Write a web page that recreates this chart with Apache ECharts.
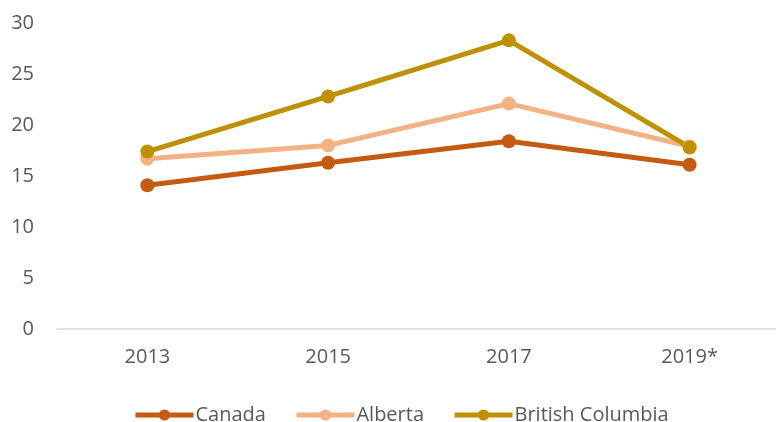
<!DOCTYPE html>
<html><head><meta charset="utf-8">
<script src="https://cdn.jsdelivr.net/npm/echarts@6/dist/echarts.min.js"></script>
<style>html,body{margin:0;padding:0;background:#fff;overflow:hidden}#c{width:786px;height:422px}</style>
</head><body><div id="c"></div>
<script>
const categories = ['2013', '2015', '2017', '2019*'];
const canada = [14.1, 16.3, 18.4, 16.1];
const alberta = [16.7, 18.0, 22.1, 17.9];
const britishColumbia = [17.4, 22.8, 28.3, 17.8];
const yTicks = [0, 5, 10, 15, 20, 25, 30];

const font = 'Open Sans, Liberation Sans, sans-serif';
const chart = echarts.init(document.getElementById('c'));
function s(name, data, color) {
  return {
    name, type: 'line', data,
    symbol: 'circle', symbolSize: 14,
    lineStyle: { width: 5, color },
    itemStyle: { color },
    z: 2
  };
}
chart.setOption({
  animation: false,
  grid: { left: 57, right: 6, top: 23, bottom: 93 },
  legend: {
    top: 400, left: 128, itemGap: 28,
    itemWidth: 58, itemHeight: 14,
    lineStyle: { width: 5 },
    textStyle: { color: '#595959', fontSize: 20, fontFamily: font, padding: [0, 0, 0, -3] },
    data: ['Canada', 'Alberta', 'British Columbia']
  },
  xAxis: {
    type: 'category', data: categories, boundaryGap: true,
    axisLine: { lineStyle: { color: '#d9d9d9', width: 1.5 } },
    axisTick: { show: false },
    axisLabel: { color: '#595959', fontSize: 20, fontFamily: font, margin: 18 }
  },
  yAxis: {
    type: 'value', min: yTicks[0], max: yTicks[yTicks.length - 1], interval: 5,
    axisLine: { show: false }, axisTick: { show: false },
    splitLine: { show: false },
    axisLabel: { color: '#595959', fontSize: 20, fontFamily: font, margin: 23 }
  },
  series: [
    s('Canada', canada, '#C55A11'),
    s('Alberta', alberta, '#F4B183'),
    s('British Columbia', britishColumbia, '#BF9000')
  ]
});
</script></body></html>
